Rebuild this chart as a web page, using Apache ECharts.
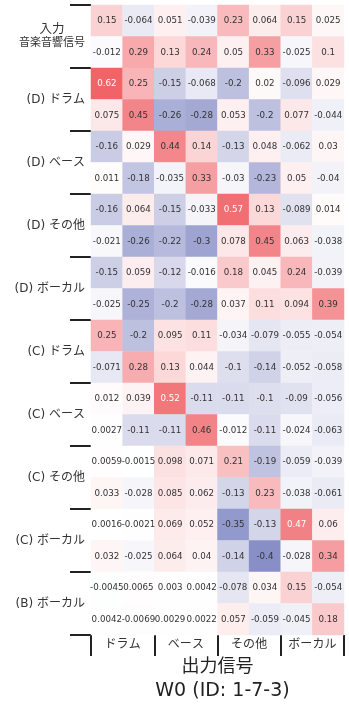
<!DOCTYPE html>
<html>
<head>
<meta charset="utf-8">
<script src="https://cdn.jsdelivr.net/npm/echarts@6/dist/echarts.min.js"></script>
<style>
  html, body { margin: 0; padding: 0; background: #fff; }
  #chart { width: 349px; height: 708px; }
</style>
</head>
<body>
<div id="chart"></div>
<script>
// input groups (2 rows each), top to bottom
const rowGroups = ['入力\n音楽音響信号', '(D) ドラム', '(D) ベース', '(D) その他', '(D) ボーカル',
  '(C) ドラム', '(C) ベース', '(C) その他', '(C) ボーカル', '(B) ボーカル'];
// output groups (2 columns each)
const colGroups = ['ドラム', 'ベース', 'その他', 'ボーカル'];

const rows = rowGroups.flatMap((g, i) => [i + '-0', i + '-1']);
const cols = colGroups.flatMap((g, i) => [i + '-0', i + '-1']);

const weights = [
  [0.15, -0.064, 0.051, -0.039, 0.23, 0.064, 0.15, 0.025],
  [-0.012, 0.29, 0.13, 0.24, 0.05, 0.33, -0.025, 0.1],
  [0.62, 0.25, -0.15, -0.068, -0.2, 0.02, -0.096, 0.029],
  [0.075, 0.45, -0.26, -0.28, 0.053, -0.2, 0.077, -0.044],
  [-0.16, 0.029, 0.44, 0.14, -0.13, 0.048, -0.062, 0.03],
  [0.011, -0.18, -0.035, 0.33, -0.03, -0.23, 0.05, -0.04],
  [-0.16, 0.064, -0.15, -0.033, 0.57, 0.13, -0.089, 0.014],
  [-0.021, -0.26, -0.22, -0.3, 0.078, 0.45, 0.063, -0.038],
  [-0.15, 0.059, -0.12, -0.016, 0.18, 0.045, 0.24, -0.039],
  [-0.025, -0.25, -0.2, -0.28, 0.037, 0.11, 0.094, 0.39],
  [0.25, -0.2, 0.095, 0.11, -0.034, -0.079, -0.055, -0.054],
  [-0.071, 0.28, 0.13, 0.044, -0.1, -0.14, -0.052, -0.058],
  [0.012, 0.039, 0.52, -0.11, -0.11, -0.1, -0.09, -0.056],
  [0.0027, -0.11, -0.11, 0.46, -0.012, -0.11, -0.024, -0.063],
  [0.0059, -0.0015, 0.098, 0.071, 0.21, -0.19, -0.059, -0.039],
  [0.033, -0.028, 0.085, 0.062, -0.13, 0.23, -0.038, -0.061],
  [0.0016, -0.0021, 0.069, 0.052, -0.35, -0.13, 0.47, 0.06],
  [0.032, -0.025, 0.064, 0.04, -0.14, -0.4, -0.028, 0.34],
  [-0.0045, 0.0065, 0.003, 0.0042, -0.078, 0.034, 0.15, -0.054],
  [0.0042, -0.0069, 0.0029, 0.0022, 0.057, -0.059, -0.045, 0.18]
];

const FONT = "'DejaVu Sans', 'Noto Sans CJK JP', sans-serif";
const fmt = (v) => String(Number(v.toPrecision(2)));

const data = [];
weights.forEach((row, y) => {
  row.forEach((v, x) => {
    data.push({
      value: [x, y, v],
      label: { color: Math.abs(v) > 0.465 ? '#ffffff' : '#333333' }
    });
  });
});

const tick = { show: true, length: 21, lineStyle: { color: '#222', width: 2 } };
const hiddenLine = { show: true, lineStyle: { color: '#fff', opacity: 0, width: 0 } };

const chart = echarts.init(document.getElementById('chart'));
chart.setOption({
  animation: false,
  backgroundColor: '#ffffff',
  title: {
    text: 'W0 (ID: 1-7-3)',
    left: 217.5,
    top: 677,
    textAlign: 'center',
    textStyle: { fontFamily: FONT, fontSize: 19, fontWeight: 'normal', color: '#222' }
  },
  grid: { left: 91, right: 5, top: 5, bottom: 73 },
  xAxis: [
    { type: 'category', data: cols, position: 'top', show: false },
    {
      type: 'category', data: colGroups, position: 'bottom',
      axisLine: hiddenLine,
      axisTick: tick,
      axisLabel: { margin: 4, fontFamily: FONT, fontSize: 12, color: '#333' },
      name: '出力信号', nameLocation: 'middle', nameGap: 23,
      nameTextStyle: { fontFamily: FONT, fontSize: 18, color: '#222' }
    }
  ],
  yAxis: [
    { type: 'category', data: rows, inverse: true, position: 'right', show: false },
    {
      type: 'category', data: rowGroups, inverse: true, position: 'left',
      axisLine: hiddenLine,
      axisTick: tick,
      axisLabel: {
        margin: 6, fontFamily: FONT, fontSize: 12, color: '#333',
        formatter: (val, idx) => idx === 0 ? '{a|入力}\n{b|音楽音響信号}' : val,
        rich: {
          a: { fontFamily: FONT, fontSize: 12.5, color: '#333', width: 66, align: 'center', lineHeight: 14 },
          b: { fontFamily: FONT, fontSize: 11, color: '#333', width: 66, align: 'center', lineHeight: 13 }
        }
      }
    }
  ],
  visualMap: {
    show: false, type: 'continuous', dimension: 2, min: -0.62, max: 0.62,
    inRange: {
      color: ['#6470b9', '#7a83c1', '#9ba0d0', '#cbcde5', '#ffffff',
        '#fbd0d2', '#f6a3a6', '#f28286', '#f06468']
    }
  },
  series: [{
    type: 'heatmap',
    xAxisIndex: 0,
    yAxisIndex: 0,
    data,
    label: {
      show: true, fontFamily: FONT, fontSize: 8.7,
      formatter: (p) => fmt(p.value[2])
    },
    emphasis: { disabled: true }
  }]
});
</script>
</body>
</html>
